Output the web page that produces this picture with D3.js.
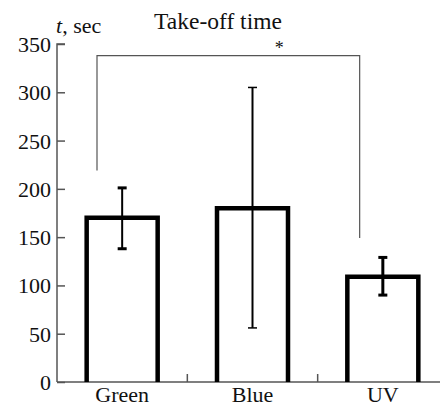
<!DOCTYPE html>
<html>
<head>
<meta charset="utf-8">
<script src="https://cdn.jsdelivr.net/npm/d3@7"></script>
<style>
body { margin: 0; background: #fff; }
text { font-family: "Liberation Serif", "Times New Roman", serif; fill: #111; }
</style>
</head>
<body>
<div class="canvas"></div>
<script>
var categories = ['Green', 'Blue', 'UV'];
var values = [170, 180, 109];
var err_lo = [138, 56, 90];
var err_hi = [201, 305, 129];
var y_ticks = [0, 50, 100, 150, 200, 250, 300, 350];
// significance bracket: from Green to UV
var sig_from = 0, sig_to = 2, sig_top = 338;
var sig_ends = [219, 149];

var W = 440, H = 408;
var svg = d3.select('div.canvas').append('svg').attr('width', W).attr('height', H);

var x = d3.scaleBand().domain(categories).range([57, 448]).paddingInner(0).paddingOuter(0);
var y = d3.scaleLinear().domain([0, 350]).range([382, 44]);
var bar_w = 71;

// y axis
var yAxis = svg.append('g').attr('transform', 'translate(57,0)')
	.call(d3.axisRight(y).tickValues(y_ticks).tickSize(8).tickFormat(d3.format('d')));
yAxis.select('.domain').attr('stroke', '#555').attr('stroke-width', 1.5).attr('d', 'M8,' + y(350) + 'H0V' + y(0));
yAxis.selectAll('.tick line').attr('stroke', '#555').attr('stroke-width', 1.5);
yAxis.selectAll('.tick text').attr('x', -6).attr('text-anchor', 'end').attr('dy', '0.34em')
	.style('font-size', '22px').style('font-family', '"Liberation Serif", serif');

// x axis
svg.append('line').attr('x1', 57).attr('x2', W).attr('y1', y(0)).attr('y2', y(0))
	.attr('stroke', '#555').attr('stroke-width', 1.5);
categories.slice(1).forEach(function(c) {
	svg.append('line').attr('x1', x(c)).attr('x2', x(c)).attr('y1', y(0)).attr('y2', y(0) - 8)
		.attr('stroke', '#555').attr('stroke-width', 1.5);
});
svg.selectAll('text.xlab').data(categories).enter().append('text').attr('class', 'xlab')
	.attr('x', function(d) { return x(d) + x.bandwidth() / 2; })
	.attr('y', 402).attr('text-anchor', 'middle').style('font-size', '22px')
	.text(function(d) { return d; });

// bars (open at bottom)
svg.selectAll('path.bar').data(categories).enter().append('path').attr('class', 'bar')
	.attr('d', function(d, i) {
		var cx = x(d) + x.bandwidth() / 2;
		var l = cx - bar_w / 2, r = cx + bar_w / 2;
		return 'M' + l + ',' + y(0) + 'V' + y(values[i]) + 'H' + r + 'V' + y(0);
	})
	.attr('fill', 'none').attr('stroke', '#000').attr('stroke-width', 4.5);

// error bars
var err_w = [2, 2, 3];
var cap_w = [3, 1.5, 3];
categories.forEach(function(c, i) {
	var cx = x(c) + x.bandwidth() / 2;
	var g = svg.append('g');
	g.append('line').attr('x1', cx).attr('x2', cx).attr('y1', y(err_lo[i])).attr('y2', y(err_hi[i]))
		.attr('stroke', '#000').attr('stroke-width', err_w[i]);
	[err_lo[i], err_hi[i]].forEach(function(v) {
		g.append('line').attr('x1', cx - 4.5).attr('x2', cx + 4.5).attr('y1', y(v)).attr('y2', y(v))
			.attr('stroke', '#000').attr('stroke-width', cap_w[i]);
	});
});

// significance bracket
var bx1 = x(categories[sig_from]) + 40, bx2 = x(categories[sig_to]) + 42;
svg.append('path')
	.attr('d', 'M' + bx1 + ',' + y(sig_ends[0]) + 'V' + y(sig_top) + 'H' + bx2 + 'V' + y(sig_ends[1]))
	.attr('fill', 'none').attr('stroke', '#555').attr('stroke-width', 1.2);
svg.append('text').attr('x', (bx1 + bx2) / 2 + 51).attr('y', 54).attr('text-anchor', 'middle')
	.style('font-size', '18px').text('*');

// titles
svg.append('text').attr('x', 218).attr('y', 29).attr('text-anchor', 'middle')
	.style('font-size', '23.5px').text('Take-off time');
var ylab = svg.append('text').attr('x', 56).attr('y', 33).style('font-size', '22px');
ylab.append('tspan').style('font-style', 'italic').text('t');
ylab.append('tspan').text(', sec');
</script>
</body>
</html>
